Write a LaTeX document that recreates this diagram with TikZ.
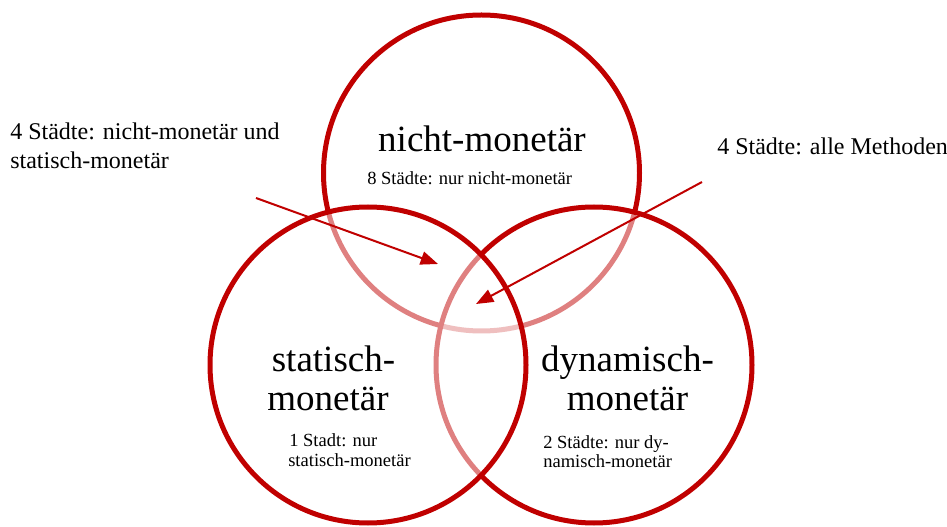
\documentclass[tikz,border=0pt]{standalone}
\usepackage{fontspec}
\setmainfont{Liberation Serif}
\usetikzlibrary{arrows.meta}
\definecolor{vred}{HTML}{C00000}
\tikzset{
  venn/.style={draw=vred, line width=3.75pt, fill=white, fill opacity=0.5, draw opacity=1},
  bigtxt/.style={inner sep=0pt, anchor=base, font=\fontsize{27.75}{33}\selectfont},
  smalltxt/.style={inner sep=0pt, anchor=base west, font=\fontsize{13.9}{16}\selectfont},
  labtxt/.style={inner sep=0pt, anchor=base west, font=\fontsize{18}{21}\selectfont},
  pointer/.style={draw=vred, line width=1.5pt, -{Triangle[length=13pt,width=10pt]}}
}
\begin{document}
\begin{tikzpicture}[x=0.75pt,y=-0.75pt]
\useasboundingbox (0,0) rectangle (947,527);
% circles (order: top, right, left)
\draw[venn] (481.5,173) circle[radius=118.5pt];
\draw[venn] (594,365) circle[radius=118.5pt];
\draw[venn] (368,365) circle[radius=118.5pt];
% texts
\node[bigtxt] (nmt) at (482,152) {nicht-monetär};
\node[smalltxt] (nms) at (367,185) {8 Städte: nur nicht-monetär};
\node[bigtxt] (smt1) at (333.5,372) {statisch-};
\node[bigtxt] (smt2) at (328,411) {monetär};
\node[smalltxt] (sms1) at (289,447) {1 Stadt: nur};
\node[smalltxt] (sms2) at (288,467) {statisch-monetär};
\node[bigtxt] (dmt1) at (627.5,372) {dynamisch-};
\node[bigtxt] (dmt2) at (627.5,411) {monetär};
\node[smalltxt] (dms1) at (543,449) {2 Städte: nur dy-};
\node[smalltxt] (dms2) at (543,468) {namisch-monetär};
\node[labtxt] (lab1a) at (10,140) {4 Städte: nicht-monetär und};
\node[labtxt] (lab1b) at (10,169) {statisch-monetär};
\node[labtxt] (lab2) at (717,155) {4 Städte: alle Methoden};
% arrows
\coordinate (a1s) at (256,198);
\coordinate (a1e) at (438,264);
\coordinate (a2s) at (702,182);
\coordinate (a2e) at (476,304);
\draw[pointer] (a1s) -- (a1e);
\draw[pointer] (a2s) -- (a2e);
\end{tikzpicture}
\end{document}
